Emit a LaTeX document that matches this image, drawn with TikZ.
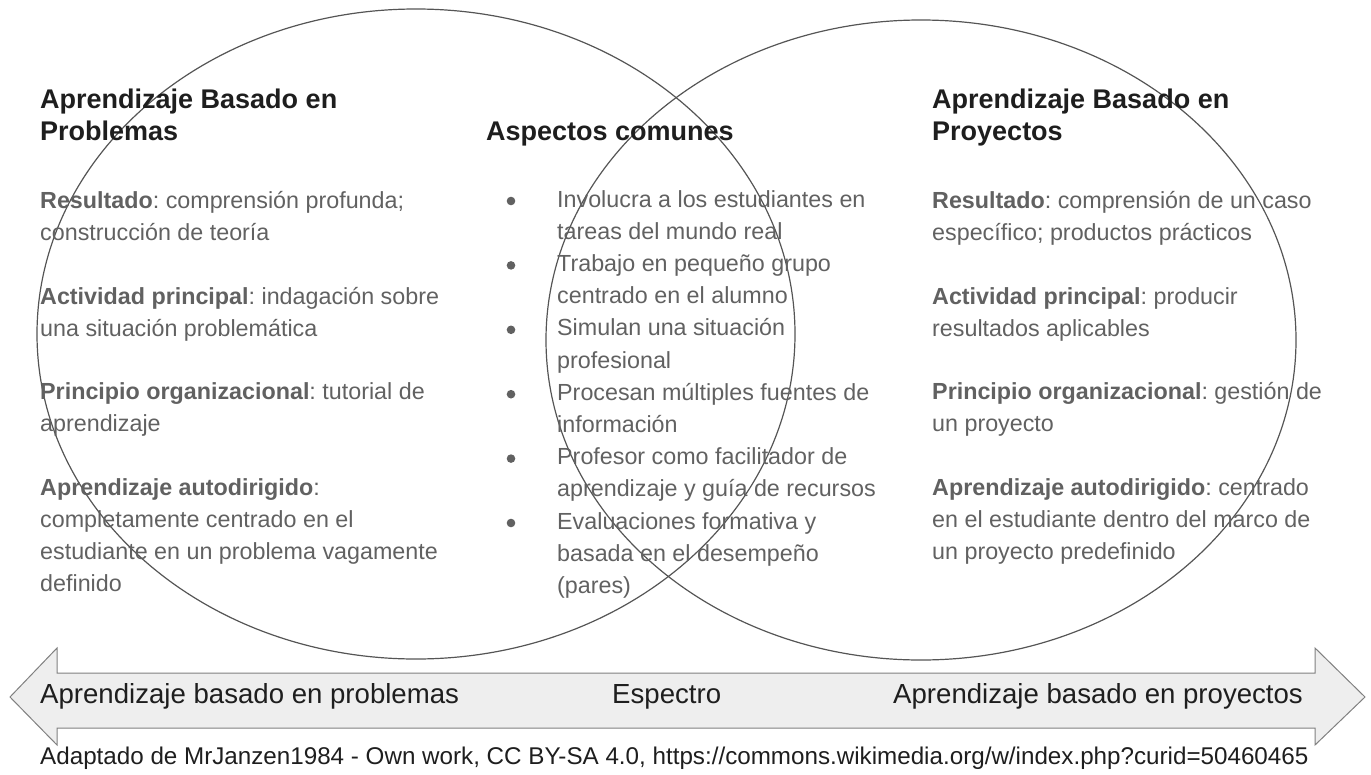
\documentclass[tikz,border=0pt]{standalone}
\usepackage{fontspec}
\setmainfont{Liberation Sans}
\frenchspacing
\definecolor{headc}{HTML}{1E1E1E}
\definecolor{bodyc}{HTML}{616161}
\definecolor{linec}{HTML}{555555}
\definecolor{arrfill}{HTML}{EEEEEE}
\definecolor{arrline}{HTML}{808080}
\tikzset{
  headtxt/.style={anchor=base west, inner sep=0pt, text=headc, font=\fontsize{27}{32}\selectfont\bfseries},
  bodytxt/.style={anchor=base west, inner sep=0pt, text=bodyc, font=\fontsize{23.3}{32}\selectfont},
  arrtxt/.style={anchor=base west, inner sep=0pt, text=headc, font=\fontsize{27.6}{32}\selectfont},
  credtxt/.style={anchor=base west, inner sep=0pt, text=headc, font=\fontsize{24.2}{28}\selectfont},
  venn/.style={draw=linec, line width=1.2pt},
  bulletdot/.style={fill=bodyc}
}
\begin{document}
\begin{tikzpicture}[x=1pt,y=-1pt]
\useasboundingbox (0,0) rectangle (1371,774);
% ellipses
\draw[venn] (416,334) ellipse [x radius=379, y radius=325];
\draw[venn] (921,340) ellipse [x radius=375, y radius=320];
% spectrum arrow
\draw[fill=arrfill, draw=arrline, line width=1pt]
  (10,697) -- (57,648) -- (57,673) -- (1315,673) -- (1315,648) -- (1365,697)
  -- (1315,745) -- (1315,728) -- (57,728) -- (57,745) -- cycle;
% left column
\node[headtxt] (lh1) at (40,108) {Aprendizaje Basado en};
\node[headtxt] (lh2) at (40,140) {Problemas};
\node[bodytxt] (l1) at (40,208) {\textbf{Resultado}: comprensión profunda;};
\node[bodytxt] (l2) at (40,240) {construcción de teoría};
\node[bodytxt] (l3) at (40,304) {\textbf{Actividad principal}: indagación sobre};
\node[bodytxt] (l4) at (40,336) {una situación problemática};
\node[bodytxt] (l5) at (40,399) {\textbf{Principio organizacional}: tutorial de};
\node[bodytxt] (l6) at (40,431) {aprendizaje};
\node[bodytxt] (l7) at (40,495) {\textbf{Aprendizaje autodirigido}:};
\node[bodytxt] (l8) at (40,527) {completamente centrado en el};
\node[bodytxt] (l9) at (40,559) {estudiante en un problema vagamente};
\node[bodytxt] (l10) at (40,591) {definido};
% middle column
\node[headtxt] (mh) at (486,140) {Aspectos comunes};
\foreach \t [count=\i from 0] in {%
  Involucra a los estudiantes en,
  tareas del mundo real,
  Trabajo en pequeño grupo,
  centrado en el alumno,
  Simulan una situación,
  profesional,
  Procesan múltiples fuentes de,
  información,
  Profesor como facilitador de,
  aprendizaje y guía de recursos,
  Evaluaciones formativa y,
  basada en el desempeño,
  (pares)}
  \node[bodytxt] (m\i) at (557,{207+32.2*\i}) {\t};
\foreach \i in {0,2,4,6,8,10}
  \fill[bulletdot] (511,{201+32.2*\i}) circle [radius=4.3];
% right column
\node[headtxt] (rh1) at (932,108) {Aprendizaje Basado en};
\node[headtxt] (rh2) at (932,140) {Proyectos};
\node[bodytxt] (r1) at (932,208) {\textbf{Resultado}: comprensión de un caso};
\node[bodytxt] (r2) at (932,240) {específico; productos prácticos};
\node[bodytxt] (r3) at (932,304) {\textbf{Actividad principal}: producir};
\node[bodytxt] (r4) at (932,336) {resultados aplicables};
\node[bodytxt] (r5) at (932,399) {\textbf{Principio organizacional}: gestión de};
\node[bodytxt] (r6) at (932,431) {un proyecto};
\node[bodytxt] (r7) at (932,495) {\textbf{Aprendizaje autodirigido}: centrado};
\node[bodytxt] (r8) at (932,527) {en el estudiante dentro del marco de};
\node[bodytxt] (r9) at (932,559) {un proyecto predefinido};
% arrow labels
\node[arrtxt] (a1) at (40,703) {Aprendizaje basado en problemas};
\node[arrtxt] (a2) at (612,703) {Espectro};
\node[arrtxt] (a3) at (893,703) {Aprendizaje basado en proyectos};
% credit
\node[credtxt] (cr) at (40,764) {Adaptado de MrJanzen1984 - Own work, CC BY-SA 4.0, https://commons.wikimedia.org/w/index.php?curid=50460465};
\end{tikzpicture}
\end{document}
